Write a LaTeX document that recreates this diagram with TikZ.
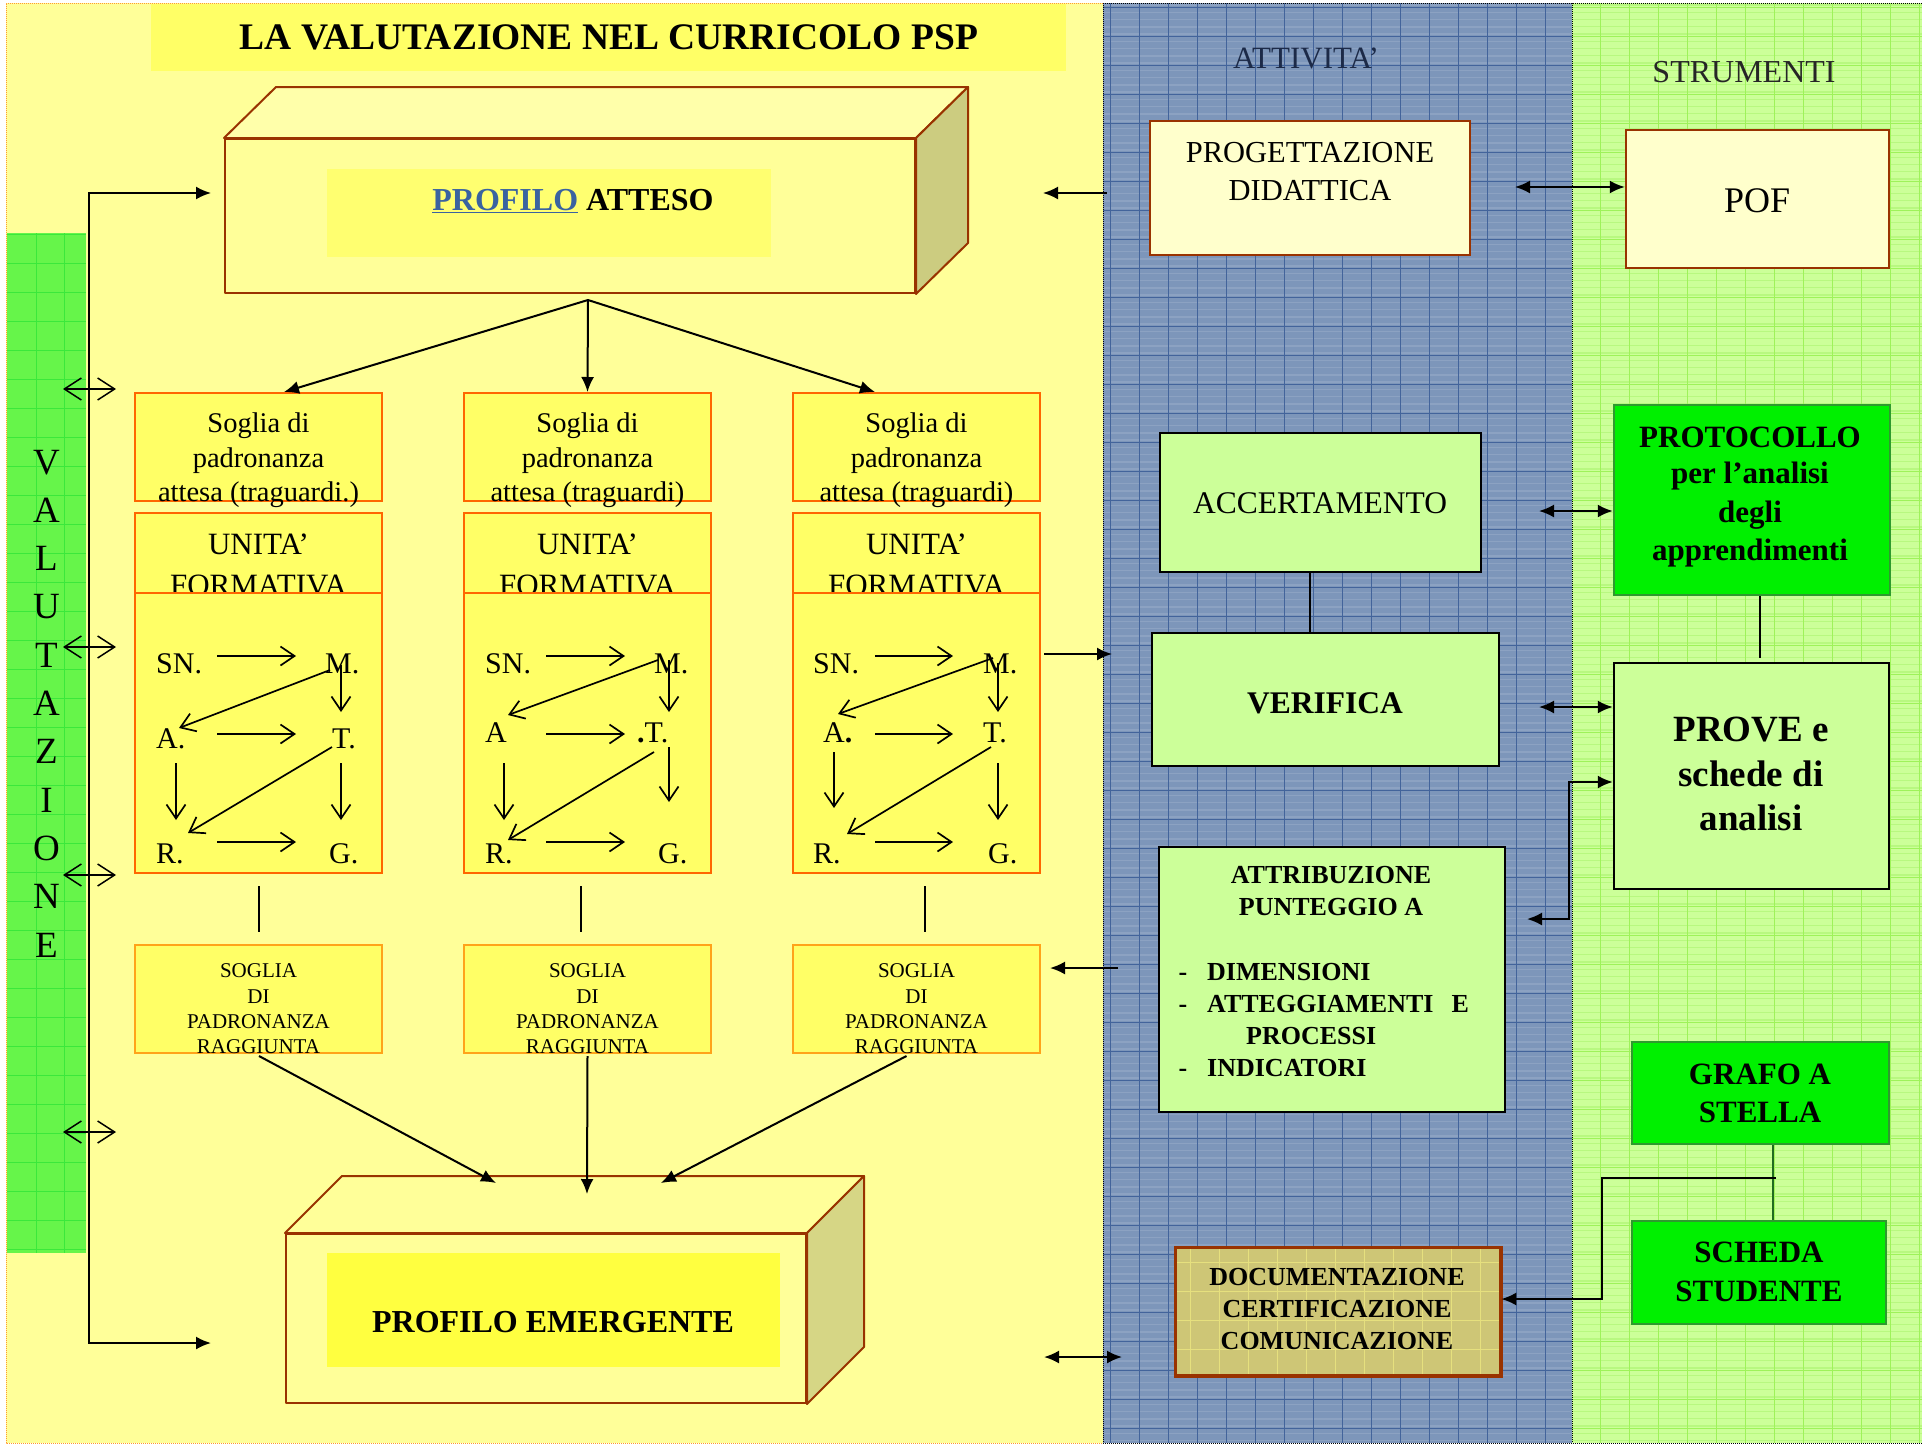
\documentclass[tikz,border=0pt]{standalone}
\usepackage{fontspec}
\setmainfont{Liberation Serif}
\usetikzlibrary{arrows.meta,calc}
\newcommand\myfs[1]{\fontsize{#1}{#1}\selectfont}
\definecolor{panely}{HTML}{FFFF99}
\definecolor{titley}{HTML}{FFFF66}
\definecolor{boxy}{HTML}{FFFF66}
\definecolor{bordo}{HTML}{FF6600}
\definecolor{bordoB}{HTML}{FFA31A}
\definecolor{brownb}{HTML}{993300}
\definecolor{topf}{HTML}{FFFFAA}
\definecolor{sidef}{HTML}{CCCC80}
\definecolor{innery}{HTML}{FFFF70}
\definecolor{inneryB}{HTML}{FFFF40}
\definecolor{blueP}{HTML}{7D96BA}
\definecolor{blueG}{HTML}{43649B}
\definecolor{greenP}{HTML}{CCFF99}
\definecolor{greenG}{HTML}{9EF25A}
\definecolor{greenS}{HTML}{B8F880}
\definecolor{valG}{HTML}{66F54A}
\definecolor{valL}{HTML}{3BE83B}
\definecolor{lightgreen}{HTML}{CCFF99}
\definecolor{brightgreen}{HTML}{00F000}
\definecolor{darkgreen}{HTML}{2E9A2E}
\definecolor{creamf}{HTML}{FFFFCC}
\definecolor{khaki}{HTML}{CEC676}
\definecolor{khakiL}{HTML}{E6E07E}
\definecolor{linkblue}{HTML}{3A63A0}
\definecolor{navy}{HTML}{1C2A48}
\definecolor{dotor}{HTML}{FF9933}
\begin{document}
\begin{tikzpicture}[x=1pt,y=-1pt,
 txt/.style={inner sep=0pt, anchor=base},
 txtw/.style={inner sep=0pt, anchor=base west},
 conn/.style={line width=2pt, draw=black},
 fh/.style={-{Latex[length=15pt,width=13pt]}},
 fhh/.style={{Latex[length=15pt,width=13pt]}-{Latex[length=15pt,width=13pt]}},
 ga/.style={line width=1.7pt, -{Straight Barb[length=14pt,width=19pt]}},
 oa/.style={line width=1.5pt, {Straight Barb[length=17pt,width=22pt]}-{Straight Barb[length=17pt,width=22pt]}},
 sbox/.style={draw=bordo, fill=boxy, line width=2pt, inner sep=0pt, minimum width=247pt},
 rbox/.style={draw=bordoB, fill=boxy, line width=2pt, inner sep=0pt, minimum width=247pt, minimum height=108pt},
 gbox/.style={draw=black, fill=lightgreen, line width=2.5pt, inner sep=0pt},
 bgbox/.style={draw=darkgreen, fill=brightgreen, line width=2.5pt, inner sep=0pt},
 cbox/.style={draw=brownb, fill=creamf, line width=2.5pt, inner sep=0pt},
 face/.style={draw=brownb, line width=2pt, line join=round}
]
\useasboundingbox (0,0) rectangle (1922,1446);
\fill[white] (0,0) rectangle (1922,1446);
% ---------- panels
\fill[panely] (6,3) rectangle (1103,1443);
\fill[blueP] (1103,3) rectangle (1572,1443);
\fill[greenP] (1572,3) rectangle (1922,1443);
\begin{scope}
\clip (1103,3) rectangle (1572,1443);
\foreach \k in {0,...,198} \draw[white, opacity=0.12, line width=1.5pt] (1103,{5+7.25*\k}) -- (1572,{5+7.25*\k});
\foreach \k in {0,...,16} \draw[blueG, line width=1pt] ({1110+29*\k},3) -- ({1110+29*\k},1443);
\foreach \k in {0,...,49} \draw[blueG, line width=1pt] (1103,{7+29*\k}) -- (1572,{7+29*\k});
\end{scope}
\begin{scope}
\clip (1572,3) rectangle (1922,1443);
\foreach \k in {0,...,198} \draw[greenS, line width=1.2pt] (1572,{5+7.25*\k}) -- (1922,{5+7.25*\k});
\foreach \k in {0,...,11} \draw[greenG, line width=1pt] ({1600+29*\k},3) -- ({1600+29*\k},1443);
\foreach \k in {0,...,49} \draw[greenG, line width=1pt] (1572,{7+29*\k}) -- (1922,{7+29*\k});
\end{scope}
\draw[dotor, densely dotted, line width=1pt] (1103,3) -- (6,3) -- (6,1443) -- (1103,1443);
\draw[black, densely dotted, line width=1pt] (1103,3) -- (1103,1443) (1572,3) -- (1572,1443) (1103,3) -- (1922,3) (1103,1443) -- (1922,1443);
% ---------- VALUTAZIONE strip
\fill[valG] (7,233) rectangle (86,1253);
\begin{scope}
\clip (7,233) rectangle (86,1253);
\foreach \k in {0,...,35} \draw[valL, line width=1pt] (7,{234+29*\k}) -- (86,{234+29*\k});
\foreach \x in {36,64} \draw[valL, line width=1pt] (\x,233) -- (\x,1253);
\end{scope}
\foreach \L [count=\k from 0] in {V,A,L,U,T,A,Z,I,O,N,E}
  \node[txt] (v\k) at (46.5,{474+48.3*\k}) {\myfs{37}\L};
% ---------- title
\node[fill=titley, minimum width=915pt, minimum height=67pt, inner sep=0pt] (tband) at (608.5,37.5) {};
\node[txt] (title) at (609,49) {\myfs{37.5}\bfseries LA VALUTAZIONE NEL CURRICOLO PSP};
% ---------- PROFILO ATTESO box
\node[face, fill=panely, minimum width=690pt, minimum height=154pt, inner sep=0pt] (pa) at (570,216) {};
\filldraw[face, fill=topf] (pa.north west) -- ($(pa.north west)+(52,-51)$) -- ($(pa.north east)+(52,-51)$) -- (pa.north east) -- cycle;
\filldraw[face, fill=sidef] (pa.north east) -- ($(pa.north east)+(52,-51)$) -- ($(pa.south east)+(52,-51)$) -- (pa.south east) -- cycle;
\node[fill=innery, minimum width=444pt, minimum height=88pt, inner sep=0pt] (pain) at (549,213) {};
\node[txt] (patx) at (573,210) {\myfs{32}\bfseries{\color{linkblue}\underline{PROFILO}} ATTESO};
% ---------- PROFILO EMERGENTE box
\node[face, fill=panely, minimum width=520pt, minimum height=169pt, inner sep=0pt] (pe) at (546,1318.5) {};
\filldraw[face, fill=panely] (pe.north west) -- ($(pe.north west)+(57,-57)$) -- ($(pe.north east)+(57,-57)$) -- (pe.north east) -- cycle;
\filldraw[face, fill=sidef!80!panely] (pe.north east) -- ($(pe.north east)+(57,-57)$) -- ($(pe.south east)+(57,-57)$) -- (pe.south east) -- cycle;
\node[fill=inneryB, minimum width=453pt, minimum height=114pt, inner sep=0pt] (pein) at (553.5,1310) {};
\node[txt] (petx) at (553,1332) {\myfs{32}\bfseries PROFILO EMERGENTE};
% ---------- column boxes
\foreach \cx/\tr [count=\i] in {258.5/{attesa (traguardi.)},587.5/{attesa (traguardi)},916.5/{attesa (traguardi)}}{
  \node[sbox, minimum height=108pt] (s\i) at (\cx,447) {};
  \node[txt] (sa\i) at (\cx,432) {\myfs{28.5}Soglia di};
  \node[txt] (sb\i) at (\cx,467) {\myfs{28.5}padronanza};
  \node[txt] (sc\i) at (\cx,501) {\myfs{28.5}\tr};
  \node[sbox, minimum height=80pt] (u\i) at (\cx,553) {};
  \node[txt] (ua\i) at (\cx,554) {\myfs{31}UNITA’};
  \node[txt] (ub\i) at (\cx,595.5) {\myfs{31}FORMATIVA};
  \node[sbox, minimum height=280pt] (g\i) at (\cx,733) {};
  \node[rbox] (rg\i) at (\cx,999) {};
  \node[txt] (ra\i) at (\cx,977) {\myfs{21}SOGLIA};
  \node[txt] (rb\i) at (\cx,1003) {\myfs{21}DI};
  \node[txt] (rc\i) at (\cx,1028) {\myfs{21}PADRONANZA};
  \node[txt] (rd\i) at (\cx,1053) {\myfs{21}RAGGIUNTA};
}
% ---------- graph column 1
\node[txtw] (asn) at (156,673) {\myfs{30}SN.};
\node[txtw] (am) at (325,673) {\myfs{30}M.};
\node[txtw] (aa) at (156,748) {\myfs{30}A.};
\node[txtw] (at) at (332,748) {\myfs{30}T.};
\node[txtw] (ar) at (156,863) {\myfs{30}R.};
\node[txtw] (ag) at (329,863) {\myfs{30}G.};
\draw[ga] (217,656) -- (296,656);
\draw[ga] (341,665) -- (341,712);
\draw[ga] (330,670) -- (179,728);
\draw[ga] (217,734) -- (296,734);
\draw[ga] (176,763) -- (176,820);
\draw[ga] (332,747) -- (188,833);
\draw[ga] (341,763) -- (341,820);
\draw[ga] (217,842) -- (296,842);
% ---------- graph column 2
\node[txtw] (bsn) at (485,673) {\myfs{30}SN.};
\node[txtw] (bm) at (654,673) {\myfs{30}M.};
\node[txtw] (ba) at (485,742) {\myfs{30}A};
\node[txtw] (bt) at (637,742) {\myfs{30}{\bfseries .}T.};
\node[txtw] (br) at (485,863) {\myfs{30}R.};
\node[txtw] (bg) at (658,863) {\myfs{30}G.};
\draw[ga] (546,656) -- (625,656);
\draw[ga] (669,660) -- (669,712);
\draw[ga] (658,660) -- (508,715);
\draw[ga] (546,734) -- (625,734);
\draw[ga] (504,763) -- (504,820);
\draw[ga] (654,752) -- (508,840);
\draw[ga] (669,747) -- (669,802);
\draw[ga] (546,842) -- (625,842);
% ---------- graph column 3
\node[txtw] (csn) at (813,673) {\myfs{30}SN.};
\node[txtw] (cm) at (983,673) {\myfs{30}M.};
\node[txtw] (ca) at (823,742) {\myfs{30}A{\bfseries .}};
\node[txtw] (ct) at (983,742) {\myfs{30}T.};
\node[txtw] (cr) at (813,863) {\myfs{30}R.};
\node[txtw] (cg) at (988,863) {\myfs{30}G.};
\draw[ga] (875,656) -- (953,656);
\draw[ga] (993,658) -- (838,714);
\draw[ga] (998,663) -- (998,712);
\draw[ga] (875,734) -- (953,734);
\draw[ga] (834,752) -- (834,808);
\draw[ga] (991,747) -- (847,834);
\draw[ga] (998,763) -- (998,820);
\draw[ga] (875,842) -- (953,842);
% ---------- left connectors
\coordinate (lin1) at (211,193);
\coordinate (lc1) at (89,193);
\coordinate (lc2) at (89,1343);
\coordinate (lin2) at (211,1343);
\draw[conn, fhh, line join=miter] (lin1) -- (lc1) -- (lc2) -- (lin2);
\foreach \y [count=\k] in {389,647,875,1132}{
  \coordinate (oL\k) at (63,\y);
  \coordinate (oR\k) at (116,\y);
  \draw[oa] (oL\k) -- (oR\k);
}
% ---------- PA to soglia
\coordinate (pax) at (588,300);
\draw[conn, fh] (pax) -- ($(s1.north)+(25.5,0)$);
\draw[conn, fh] (pax) -- (s2.north);
\draw[conn, fh] (pax) -- ($(s3.north)+(-41.5,0)$);
% ---------- unita to raggiunta (thin lines)
\coordinate (vl1) at (259,886); \coordinate (vl2) at (581,886); \coordinate (vl3) at (925,886);
\foreach \k in {1,2,3} \draw[line width=1.5pt] (vl\k) -- (vl\k |- 0,932);
% ---------- raggiunta to PE
\coordinate (pe1) at (496,1183);
\coordinate (pe2) at (587,1194);
\coordinate (pe3) at (661,1183);
\draw[conn, fh] ($(rg1.south)+(0.5,2)$) -- (pe1);
\draw[conn, fh] ($(rg2.south)+(0,2)$) -- (pe2);
\draw[conn, fh] ($(rg3.south)+(-10,2)$) -- (pe3);
% ---------- arrows from/to middle panel
\coordinate (bpa) at (1107,193); \coordinate (bpat) at (1043,193);
\draw[conn, fh] (bpa) -- (bpat);
\coordinate (gb) at (1112,654);
\draw[conn, fh] ($(g3.east |- gb)+(3,0)$) -- (gb);
\coordinate (brg) at (1118,968); \coordinate (brgt) at (1050,968);
\draw[conn, fh] (brg) -- (brgt);
\coordinate (bpe1) at (1044,1357); \coordinate (bpe2) at (1122,1357);
\draw[conn, fhh] (bpe1) -- (bpe2);
% ---------- headings
\node[txt, text=navy] (hatt) at (1306,68) {\myfs{31}ATTIVITA’};
\node[txt, text=black!85] (hstr) at (1744,82) {\myfs{32}STRUMENTI};
% ---------- middle boxes
\node[cbox, minimum width=320pt, minimum height=134pt] (prog) at (1310,188) {};
\node[txt] (proga) at (1310,162) {\myfs{30.5}PROGETTAZIONE};
\node[txt] (progb) at (1310,200) {\myfs{30.5}DIDATTICA};
\node[gbox, minimum width=321pt, minimum height=139pt] (acc) at (1320.5,502.5) {};
\node[txt] (acct) at (1320,513) {\myfs{31.5}ACCERTAMENTO};
\node[gbox, minimum width=347pt, minimum height=133pt] (ver) at (1325.5,699.5) {};
\node[txt] (vert) at (1325,713) {\myfs{31.5}\bfseries VERIFICA};
\node[gbox, minimum width=346pt, minimum height=265pt] (att) at (1332,979.5) {};
\node[txt] (atta) at (1331,883) {\myfs{26}\bfseries ATTRIBUZIONE};
\node[txt] (attb) at (1331,915) {\myfs{26}\bfseries PUNTEGGIO A};
\node[txt] (dsa) at (1183,980) {\myfs{26}\bfseries -};
\node[txt] (dsb) at (1183,1012) {\myfs{26}\bfseries -};
\node[txt] (dsc) at (1183,1076) {\myfs{26}\bfseries -};
\node[txtw] (attc) at (1207,980) {\myfs{26}\bfseries DIMENSIONI};
\node[txtw] (attd) at (1207,1012) {\myfs{26}\bfseries ATTEGGIAMENTI\hspace{18pt}E};
\node[txtw] (atte) at (1246,1044) {\myfs{26}\bfseries PROCESSI};
\node[txtw] (attf) at (1207,1076) {\myfs{26}\bfseries INDICATORI};
\node[draw=brownb, fill=khaki, line width=2.5pt, inner sep=0pt, minimum width=324pt, minimum height=127pt] (doc) at (1338,1311.5) {};
\begin{scope}
\clip (1177,1249) rectangle (1499,1374);
\foreach \k in {0,...,11} \draw[khakiL, line width=1pt] ({1190+29*\k},1249) -- ({1190+29*\k},1374);
\foreach \k in {0,...,4} \draw[khakiL, line width=1pt] (1177,{1262+29*\k}) -- (1499,{1262+29*\k});
\end{scope}
\draw[brownb, line width=2.5pt] (doc.north west) rectangle (doc.south east);
\node[txt] (doca) at (1337,1285) {\myfs{26}\bfseries DOCUMENTAZIONE};
\node[txt] (docb) at (1337,1317) {\myfs{26}\bfseries CERTIFICAZIONE};
\node[txt] (docc) at (1337,1349) {\myfs{26}\bfseries COMUNICAZIONE};
% ---------- right boxes
\node[cbox, minimum width=263pt, minimum height=138pt] (pof) at (1757.5,199) {};
\node[txt] (poft) at (1757,212) {\myfs{36}POF};
\node[bgbox, minimum width=276pt, minimum height=190pt] (pro) at (1752,500) {};
\node[txt] (proa) at (1750,447) {\myfs{31}\bfseries PROTOCOLLO};
\node[txt] (prob) at (1750,483) {\myfs{31}\bfseries per l’analisi};
\node[txt] (proc) at (1750,522) {\myfs{31}\bfseries degli};
\node[txt] (prod) at (1750,560) {\myfs{31}\bfseries apprendimenti};
\node[gbox, minimum width=275pt, minimum height=226pt] (prv) at (1751.5,776) {};
\node[txt] (prva) at (1751,741) {\myfs{37}\bfseries PROVE e};
\node[txt] (prvb) at (1751,786) {\myfs{37}\bfseries schede di};
\node[txt] (prvc) at (1751,830) {\myfs{37}\bfseries analisi};
\node[bgbox, minimum width=257pt, minimum height=102pt] (gra) at (1760.5,1093) {};
\node[txt] (graa) at (1760,1084) {\myfs{31}\bfseries GRAFO A};
\node[txt] (grab) at (1760,1122) {\myfs{31}\bfseries STELLA};
\node[bgbox, minimum width=254pt, minimum height=103pt] (sch) at (1759,1272.5) {};
\node[txt] (scha) at (1759,1262) {\myfs{31}\bfseries SCHEDA};
\node[txt] (schb) at (1759,1301) {\myfs{31}\bfseries STUDENTE};
% ---------- right connectors
\coordinate (pp1) at (1515,187);
\draw[conn, fhh] (pp1) -- (pp1 -| pof.west);
\coordinate (ap1) at (1539,511);
\draw[conn, fhh] (ap1) -- (ap1 -| pro.west);
\coordinate (vp1) at (1539,707);
\draw[conn, fhh] (vp1) -- (vp1 -| prv.west);
\coordinate (at1) at (1527,919); \coordinate (atc1) at (1569,919); \coordinate (atc2) at (1569,782);
\draw[conn, fhh] (at1) -- (atc1) -- (atc2) -- (atc2 -| prv.west);
\coordinate (av) at (1310,0);
\draw[line width=1.8pt] (acc.south -| av) -- (ver.north -| av);
\coordinate (pv) at (1760,0);
\draw[line width=1.8pt] (pro.south -| pv) -- ($(prv.north -| pv)+(0,-4)$);
\coordinate (gs) at (1773,0);
\draw[line width=1.8pt, draw=darkgreen!70!black] (gra.south -| gs) -- (sch.north -| gs);
\coordinate (j1) at (1776,1178); \coordinate (j2) at (1602,1178); \coordinate (j3) at (1602,1299);
\draw[conn, fh] (j1) -- (j2) -- (j3) -- (j3 -| doc.east);
\end{tikzpicture}
\end{document}
